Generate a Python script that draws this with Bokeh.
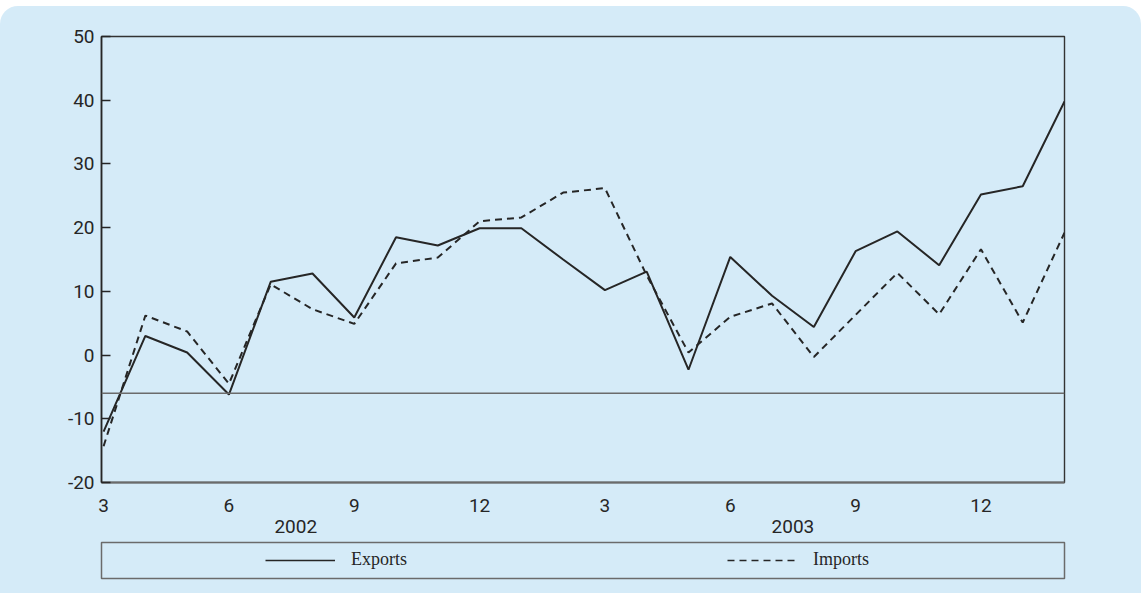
from bokeh.plotting import figure
from bokeh.layouts import column
from bokeh.models import (FixedTicker, Span, Legend, LegendItem, LinearAxis)
from bokeh.embed import file_html
from bokeh.resources import INLINE

# Monthly growth rates, March 2002 - February 2004 (per cent)
months = ["2002-03", "2002-04", "2002-05", "2002-06", "2002-07", "2002-08",
          "2002-09", "2002-10", "2002-11", "2002-12", "2003-01", "2003-02",
          "2003-03", "2003-04", "2003-05", "2003-06", "2003-07", "2003-08",
          "2003-09", "2003-10", "2003-11", "2003-12", "2004-01", "2004-02"]
exports = [-12.0, 3.0, 0.4, -6.2, 11.5, 12.8, 5.9, 18.5, 17.2, 19.9, 19.9, 15.0,
           10.2, 13.1, -2.3, 15.4, 9.3, 4.4, 16.3, 19.4, 14.1, 25.2, 26.5, 39.8]
imports = [-14.3, 6.2, 3.7, -4.5, 11.1, 7.2, 4.9, 14.4, 15.3, 21.0, 21.6, 25.5,
           26.2, 12.5, 0.4, 6.0, 8.1, -0.3, 6.3, 12.9, 6.4, 16.6, 5.1, 19.2]
x_ticks = [0, 3, 6, 9, 12, 15, 18, 21]
x_tick_labels = ["3", "6", "9", "12", "3", "6", "9", "12"]
y_ticks = [-20, -10, 0, 10, 20, 30, 40, 50]
y_tick_labels = ["-20", "-10", "0", "10", "20", "30", "40", "50"]
years = ["2002", "2003"]
year_centres = [4.6, 16.5]
reference_level = -6

PANEL = "#D5EBF8"
INK = "#262626"
GREY = "#6b6b6b"
FONT = "Roboto"
FONT_SIZE = "19px"

x = list(range(len(months)))

# ---- main chart -----------------------------------------------------------
p = figure(width=1141, height=535,
           x_range=(-0.05, 23.0), y_range=(-20, 50),
           min_border_left=100, min_border_right=77,
           min_border_top=30, min_border_bottom=59,
           output_backend="svg", toolbar_location=None)
p.border_fill_alpha = 0
p.background_fill_color = PANEL
p.outline_line_color = "#333333"
p.outline_line_width = 1.4
p.xgrid.visible = False
p.ygrid.visible = False

# y axis: short inward ticks
p.yaxis.ticker = FixedTicker(ticks=y_ticks)
p.yaxis.major_label_overrides = {t: s for t, s in zip(y_ticks, y_tick_labels)}
p.yaxis.major_tick_in = 9
p.yaxis.major_tick_out = 0
p.yaxis.minor_tick_line_color = None
p.yaxis.axis_line_color = INK
p.yaxis.axis_line_width = 1.6
p.yaxis.major_tick_line_color = INK
p.yaxis.major_tick_line_width = 1.4
p.yaxis.major_label_text_font = FONT
p.yaxis.major_label_text_font_size = FONT_SIZE
p.yaxis.major_label_text_color = INK
p.yaxis.major_label_standoff = 7

# x axis: month numbers, no tick marks
p.xaxis.ticker = FixedTicker(ticks=x_ticks)
p.xaxis.major_label_overrides = {t: s for t, s in zip(x_ticks, x_tick_labels)}
p.xaxis.major_tick_in = 0
p.xaxis.major_tick_out = 0
p.xaxis.minor_tick_line_color = None
p.xaxis.axis_line_color = GREY
p.xaxis.axis_line_width = 2
p.xaxis.major_label_text_font = FONT
p.xaxis.major_label_text_font_size = FONT_SIZE
p.xaxis.major_label_text_color = INK
p.xaxis.major_label_standoff = 16

# second row of the time axis: the years
year_axis = LinearAxis(ticker=FixedTicker(ticks=year_centres),
                       major_label_overrides={c: y for c, y in zip(year_centres, years)},
                       axis_line_color=None, major_tick_line_color=None,
                       minor_tick_line_color=None, major_label_standoff=-1,
                       major_label_text_font=FONT,
                       major_label_text_font_size=FONT_SIZE,
                       major_label_text_color=INK)
p.add_layout(year_axis, "below")

# horizontal reference line
p.add_layout(Span(location=reference_level, dimension="width",
                  line_color=GREY, line_width=1.6))

p.line(x, exports, line_color=INK, line_width=2)
p.line(x, imports, line_color=INK, line_width=2, line_dash="7 5")

# ---- legend strip ---------------------------------------------------------
# the key renderers carry the series but their range keeps them out of view;
# only their legend samples are drawn
leg = figure(width=1141, height=52, x_range=(-3, -2), y_range=(-3, -2),
             min_border_left=101, min_border_right=77,
             min_border_top=1, min_border_bottom=15,
             x_axis_location=None, y_axis_location=None,
             output_backend="svg", toolbar_location=None)
leg.border_fill_alpha = 0
leg.background_fill_color = PANEL
leg.outline_line_color = GREY
leg.outline_line_width = 1.5
leg.xgrid.visible = False
leg.ygrid.visible = False

key_exp = leg.line(x, exports, line_color=INK, line_width=1.6)
key_imp = leg.line(x, imports, line_color=INK, line_width=1.6, line_dash="7 5")

legend = Legend(items=[LegendItem(label="Exports", renderers=[key_exp]),
                       LegendItem(label="Imports", renderers=[key_imp])],
                orientation="horizontal", location=(156, 0),
                glyph_width=70, glyph_height=20, label_height=20,
                label_standoff=16, spacing=320, padding=8, margin=0,
                border_line_alpha=0, background_fill_alpha=0,
                label_text_font="Liberation Serif",
                label_text_font_size="18px", label_text_color=INK)
leg.add_layout(legend)

page = column(p, leg, spacing=0, margin=(6, 0, 0, 0),
              styles={"background-color": PANEL,
                      "border-radius": "18px 18px 0 0"})

open("out.html", "w").write(file_html(page, INLINE))
